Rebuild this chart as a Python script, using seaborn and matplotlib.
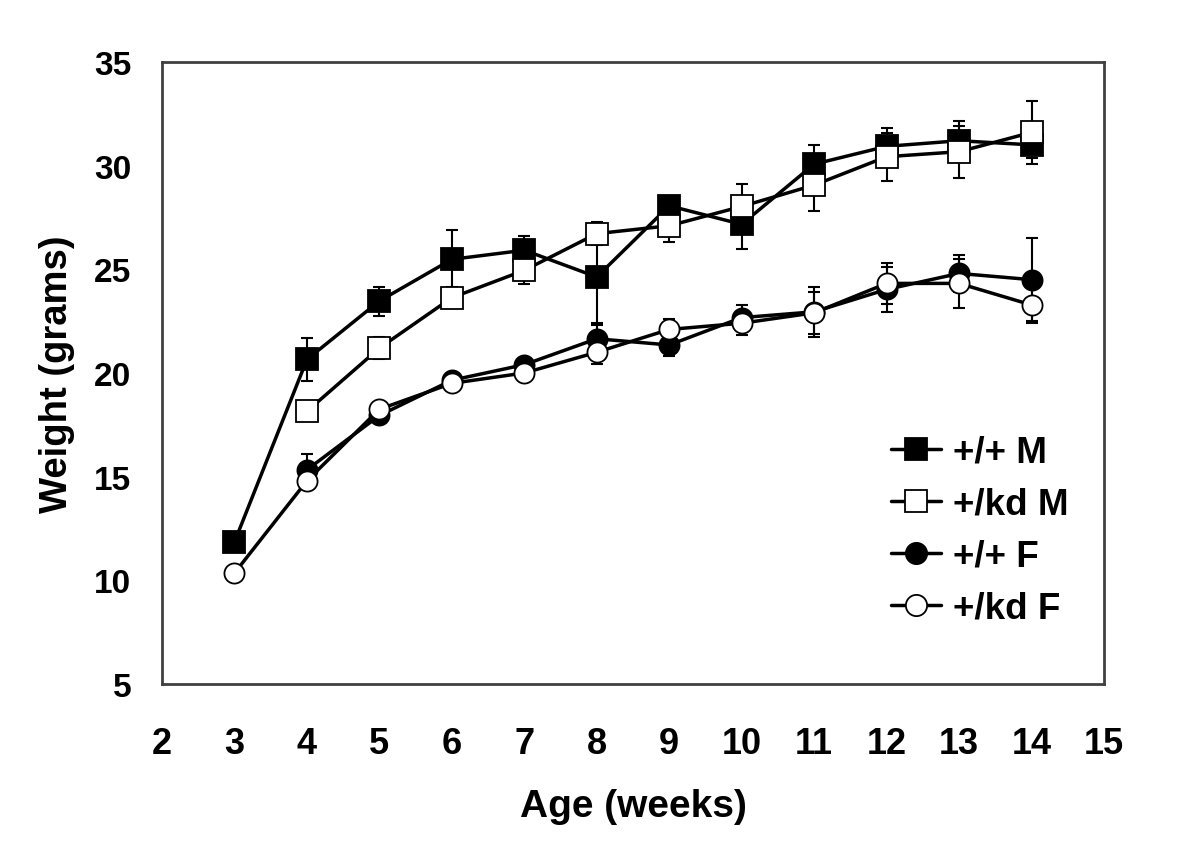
import numpy as np
import pandas as pd
import matplotlib
matplotlib.use('Agg')
import matplotlib.pyplot as plt
import seaborn as sns
from matplotlib.lines import Line2D

# Data
weeks_m = [3, 4, 5, 6, 7, 8, 9, 10, 11, 12, 13, 14]
wt_m = [11.85, 20.65, 23.47, 25.48, 25.92, 24.63, 28.06, 27.17, 30.07, 30.93, 31.2, 31.0]
wt_m_err = [0.0, 1.05, 0.7, 1.4, 0.7, 2.2, 0.4, 1.2, 0.9, 0.9, 0.95, 0.65]

weeks_kd_m = [4, 5, 6, 7, 8, 9, 10, 11, 12, 13, 14]
kd_m = [18.15, 21.2, 23.63, 24.95, 26.72, 27.1, 28.03, 29.06, 30.43, 30.67, 31.6]
kd_m_err = [0.3, 0.55, 0.5, 0.65, 0.55, 0.8, 1.07, 1.25, 1.15, 1.25, 1.5]

weeks_f = [4, 5, 6, 7, 8, 9, 10, 11, 12, 13, 14]
wt_f = [15.33, 17.95, 19.65, 20.4, 21.65, 21.35, 22.67, 22.95, 24.03, 24.8, 24.5]
wt_f_err = [0.75, 0.3, 0.3, 0.3, 0.65, 0.55, 0.6, 1.2, 1.1, 0.9, 2.0]

weeks_kd_f = [3, 4, 5, 6, 7, 8, 9, 10, 11, 12, 13, 14]
kd_f = [10.35, 14.8, 18.25, 19.5, 20.0, 21.0, 22.1, 22.4, 22.9, 24.32, 24.32, 23.28]
kd_f_err = [0.2, 0.3, 0.3, 0.3, 0.3, 0.55, 0.5, 0.55, 1.0, 1.0, 1.2, 0.85]

labels = ['+/+ M', '+/kd M', '+/+ F', '+/kd F']

# x, y, err, marker, face colour, marker size
series = [
    (weeks_m, wt_m, wt_m_err, 's', 'black', 15.5),
    (weeks_kd_m, kd_m, kd_m_err, 's', 'white', 15.5),
    (weeks_f, wt_f, wt_f_err, 'o', 'black', 14.5),
    (weeks_kd_f, kd_f, kd_f_err, 'o', 'white', 14.5),
]

sns.set_style('white')
plt.rcParams['font.family'] = ['Liberation Sans', 'DejaVu Sans']
plt.rcParams['text.color'] = 'black'
plt.rcParams['axes.labelcolor'] = 'black'

fig = plt.figure(figsize=(12, 8.62), dpi=100)
ax = fig.add_axes([0.135, 0.2053, 0.785, 0.7217])

for i, (x, y, err, mk, fc, ms) in enumerate(series):
    ax.errorbar(x, y, yerr=err, fmt='none', ecolor='black', elinewidth=1.5,
                capsize=4.5, capthick=1.5, zorder=2 + i * 2)
    df = pd.DataFrame({'week': x, 'weight': y})
    sns.lineplot(data=df, x='week', y='weight', ax=ax, color='black', linewidth=2.5,
                 marker=mk, markersize=ms, markerfacecolor=fc, markeredgecolor='black',
                 markeredgewidth=1.3, zorder=3 + i * 2)

ax.set_xlim(2, 15)
ax.set_ylim(5, 35)
ax.set_xticks(range(2, 16))
ax.set_yticks(range(5, 40, 5))

for s in ax.spines.values():
    s.set_color('#404040')
    s.set_linewidth(2)

ax.tick_params(axis='both', direction='out', length=9, width=1, color='#b0b0b0',
               labelcolor='black')
ax.tick_params(axis='y', pad=13, labelsize=24)
ax.tick_params(axis='x', pad=21, labelsize=26)
for t in ax.get_yticklabels() + ax.get_xticklabels():
    t.set_fontweight('bold')

ax.set_xlabel('Age (weeks)', fontsize=28, fontweight='bold', labelpad=20)
ax.set_ylabel('Weight (grams)', fontsize=27.5, fontweight='bold', labelpad=14)

handles = []
for (x, y, err, mk, fc, ms) in series:
    handles.append(Line2D([0], [0], color='black', linewidth=2.5, marker=mk,
                          markersize=ms + 0.8, markerfacecolor=fc, markeredgecolor='black',
                          markeredgewidth=1.3))
leg = ax.legend(handles, labels, loc='center left', bbox_to_anchor=(0.754, 0.247),
                frameon=False, borderpad=0, handlelength=1.36, handletextpad=0.33,
                labelspacing=0.46, prop={'size': 26.5, 'weight': 'bold'})

fig.savefig('out.png', dpi=100)
